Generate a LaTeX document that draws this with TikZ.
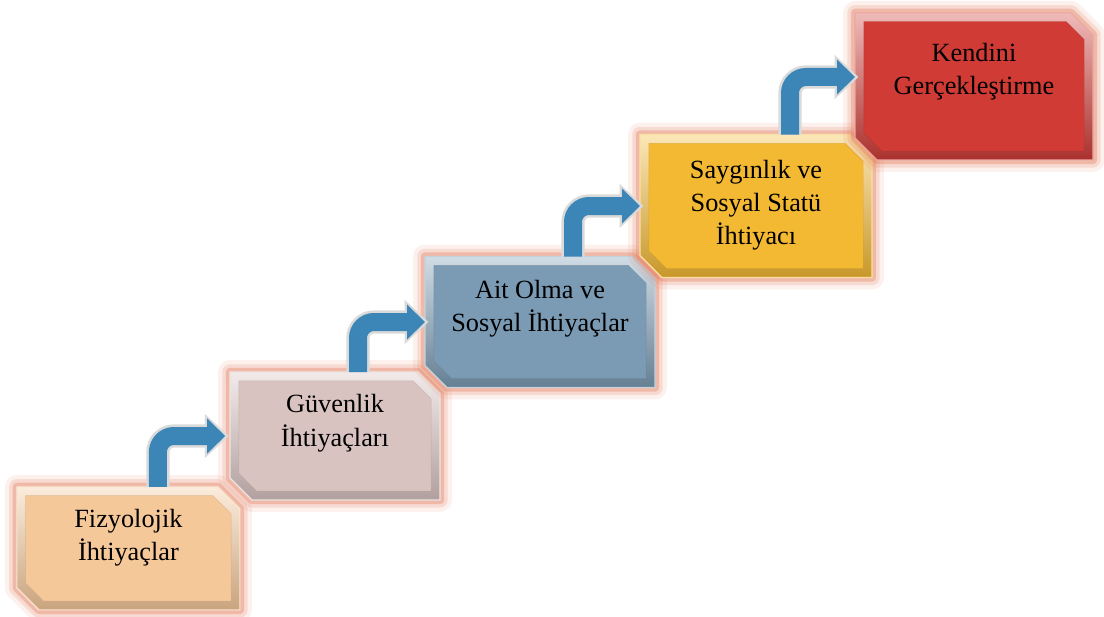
\documentclass[tikz,border=0pt]{standalone}
\usepackage{fontspec}
\setmainfont{Liberation Serif}
\usetikzlibrary{positioning, arrows.meta, calc}
\definecolor{fizpeach}{HTML}{F5C89A}
\definecolor{guvpink}{HTML}{D8C3C1}
\definecolor{aitblue}{HTML}{7B9BB4}
\definecolor{saygold}{HTML}{F4B933}
\definecolor{kenred}{HTML}{D03B36}
\definecolor{stepglow}{HTML}{E0724F}
\definecolor{arrowblue}{HTML}{3B86B6}
\definecolor{arrowgray}{HTML}{DADADA}

\begin{document}
\begin{tikzpicture}[
    every node/.style={font=\fontsize{18.7}{23.5}\selectfont},
    stepbox/.style={rectangle, inner sep=0pt, outer sep=0pt},
    % snipped-corner outline of a step: node, inset, chamfer
    snip/.style n args={3}{insert path={
        ([shift={(#2,-#2)}]#1.north west) -- ([shift={(-#3,-#2)}]#1.north east)
        -- ([shift={(-#2,-#3)}]#1.north east) -- ([shift={(-#2,#2)}]#1.south east)
        -- ([shift={(#3,#2)}]#1.south west) -- ([shift={(#2,#3)}]#1.south west) -- cycle}},
    steptext/.style={align=center, inner sep=0pt},
    arrowedge/.style={draw=arrowgray, line width=.58cm, rounded corners=.4cm,
                      -{Triangle[width=1.07cm, length=.6cm]}},
    steparrow/.style={draw=arrowblue, line width=.45cm, rounded corners=.4cm,
                      -{Triangle[width=.85cm, length=.45cm]}},
  ]
  \useasboundingbox (0,0) rectangle (27.6,15.4);

  % step places
  \node[stepbox, minimum width=5.575cm, minimum height=3.075cm] (fiz) at (3.21,1.69) {};
  \node[stepbox, minimum width=5.25cm, minimum height=3.2cm] (guv) at (8.375,4.5) {};
  \node[stepbox, minimum width=5.75cm, minimum height=3.275cm] (ait) at (13.5,7.35) {};
  \node[stepbox, minimum width=5.8cm, minimum height=3.575cm] (say) at (18.9,10.25) {};
  \node[stepbox, minimum width=5.95cm, minimum height=3.675cm] (ken) at (24.35,13.24) {};

  % glow, bevel and face of each step
  \foreach \b/\c in {fiz/fizpeach, guv/guvpink, ait/aitblue, say/saygold, ken/kenred}{
    \foreach \w/\o in {17pt/.1, 11pt/.18, 6pt/.32}
      \draw[stepglow, line width=\w, draw opacity=\o, line join=round, snip={\b}{0}{.55}];
    \shade[top color=\c!35!white, middle color=\c, bottom color=\c!82!black, snip={\b}{0}{.55}];
    \fill[\c, snip={\b}{.22}{.67}];
    \draw[\c!80!black, line width=.3pt, opacity=.5, snip={\b}{.22}{.67}];
    \draw[\c!45!white, line width=.8pt, snip={\b}{0}{.55}];
  }

  % labels
  \node[steptext] (fiztext) at ([yshift=.26cm]fiz.center) {Fizyolojik\\İhtiyaçlar};
  \node[steptext] (guvtext) at ([yshift=.32cm]guv.center) {Güvenlik\\İhtiyaçları};
  \node[steptext] (aittext) at ([yshift=.33cm]ait.center) {Ait Olma ve\\Sosyal İhtiyaçlar};
  \node[steptext] (saytext) at ([yshift=.01cm]say.center) {Saygınlık ve\\Sosyal Statü\\İhtiyacı};
  \node[steptext] (kentext) at ([yshift=.36cm]ken.center) {Kendini\\Gerçekleştirme};

  % bent arrows
  \foreach \from/\to/\dy/\gap in {fiz/guv/0/.12, guv/ait/0/0, ait/say/0/0, say/ken/.235/0}{
    \draw[arrowedge] ([xshift=-2.05cm]\from.east |- \from.north)
      |- ([shift={(-\gap cm+.09cm,\dy cm)}]\to.west);
    \draw[steparrow] ([xshift=-2.05cm]\from.east |- \from.north)
      |- ([shift={(-\gap cm,\dy cm)}]\to.west);
  }
\end{tikzpicture}
\end{document}
